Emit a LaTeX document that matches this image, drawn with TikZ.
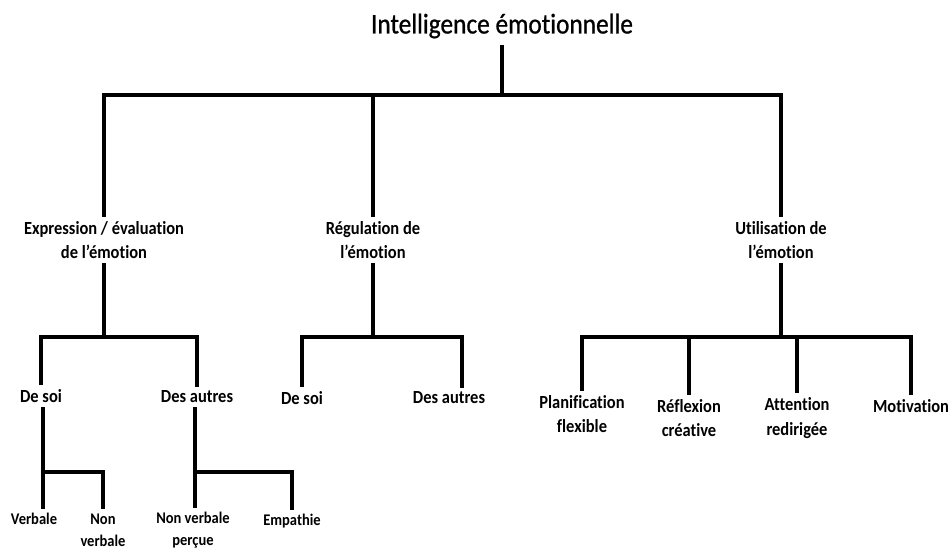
\documentclass[tikz,border=0pt]{standalone}
\usepackage{fontspec}
\setmainfont{Carlito}[FakeStretch=0.89, Ligatures=CommonOff]
\newfontfamily\rootfont{Carlito}[FakeStretch=0.89, FakeBold=0.8, Ligatures=CommonOff]
\usetikzlibrary{positioning}

\begin{document}
\begin{tikzpicture}[
    x=1pt, y=-1pt,
    every node/.style={align=center, inner sep=0pt},
    root/.style={font=\rootfont\fontsize{28.5}{32}\selectfont, inner sep=6pt},
    branch/.style={font=\bfseries\fontsize{18.5}{24.5}\selectfont, inner sep=4pt},
    leaf/.style={font=\bfseries\fontsize{16.3}{22}\selectfont, inner sep=4pt},
    link/.style={draw, line width=3.3pt}
]
\useasboundingbox (0,0) rectangle (952,553);
\node[root] (ie) at (502,26) {Intelligence émotionnelle};
\node[branch] (exp) at (104,240) {Expression / évaluation\\de l’émotion};
\node[branch] (reg) at (373,240) {Régulation de\\l’émotion};
\node[branch] (uti) at (781,240) {Utilisation de\\l’émotion};
\node[branch] (exs) at (41,396) {De soi};
\node[branch] (exa) at (197,397) {Des autres};
\node[branch] (rgs) at (302,398) {De soi};
\node[branch] (rga) at (449,398) {Des autres};
\node[branch] (pla) at (582,414) {Planification\\flexible};
\node[branch] (ref) at (689,418) {Réflexion\\créative};
\node[branch] (att) at (797,418) {Attention\\redirigée};
\node[branch] (mot) at (911,406) {Motivation};
\node[leaf] (verb) at (34,519) {Verbale};
\node[leaf] (nvb) at (103,530) {Non\\verbale};
\node[leaf] (nvp) at (193,530) {Non verbale\\perçue};
\node[leaf] (emp) at (292,521) {Empathie};

\coordinate (b0) at (ie.south |- 0,95);
\coordinate (b1) at (exp.south |- 0,337);
\coordinate (b2) at (reg.south |- 0,337);
\coordinate (b3) at (uti.south |- 0,337);
\coordinate (b4) at ([xshift=2pt]exs.south |- 0,472);
\coordinate (b5) at ([xshift=-2pt]exa.south |- 0,472);

\draw[link] (ie) -- (b0);
\draw[link] (exp.north) |- (b0) -| (uti.north);
\draw[link] (b0) -| (reg.north);
\draw[link] (exp) -- (b1);
\draw[link] (exs.north) |- (b1) -| (exa.north);
\draw[link] (reg) -- (b2);
\draw[link] (rgs.north) |- (b2) -| ([xshift=13pt]rga.north);
\draw[link] (uti) -- (b3);
\draw[link] (pla.north) |- (b3) -| (mot.north);
\draw[link] (b3) -| (ref.north);
\draw[link] (b3) -| (att.north);
\draw[link] ([xshift=2pt]exs.south) -- ([xshift=2pt]exs.south |- verb.north);
\draw[link] (b4) -| (nvb.north);
\draw[link] ([xshift=-2pt]exa.south) -- ([xshift=-2pt]exa.south |- nvp.north);
\draw[link] (b5) -| (emp.north);
\end{tikzpicture}
\end{document}
